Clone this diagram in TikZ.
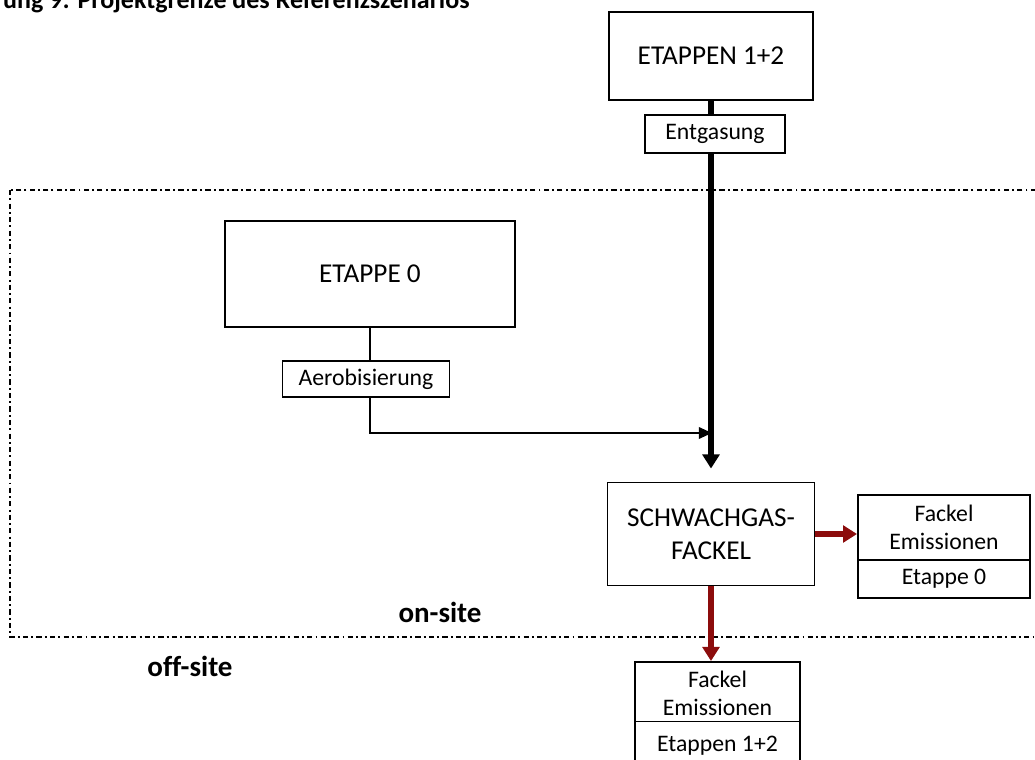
\documentclass[tikz,border=0pt]{standalone}
\usepackage{fontspec}
\setmainfont{Carlito}
\usetikzlibrary{arrows.meta,calc}

\definecolor{fackelrot}{RGB}{140,12,12}

\tikzset{
	box/.style={draw,line width=1.1pt,fill=white,inner sep=0pt,align=center,font=\fontsize{13.5}{16}\selectfont},
	grossbox/.style={box,font=\fontsize{15.5}{19}\selectfont},
	grenze/.style={line width=1.6pt,dash pattern=on 3pt off 1.8pt on 1.1pt off 1.8pt},
	flussdick/.style={line width=3.2pt,-{Triangle[length=8pt,width=9.5pt]}},
	flussduenn/.style={line width=1.3pt,-{Triangle[length=7.5pt,width=6.5pt]}},
	flussrot/.style={line width=3.2pt,fackelrot,-{Triangle[length=8pt,width=9.5pt]}},
	gebiet/.style={font=\fontsize{16.5}{19}\selectfont\bfseries\addfontfeature{Ligatures=NoCommon}}
}

\begin{document}
\begin{tikzpicture}[x=0.02cm,y=-0.02cm]

			\useasboundingbox (0,0) rectangle (1035,760);
			\clip (0,0) rectangle (1035,760);

			\node[anchor=base west,font=\fontsize{14.8}{17}\selectfont\bfseries] (titel) at (-3,9) {ung 9: Projektgrenze des Referenzszenarios};

			% Projektgrenze
			\draw[grenze] (10,190) rectangle (1050,637);

			\coordinate (merge) at (712,433);

			\node[grossbox,minimum width=4.08cm,minimum height=1.76cm] (etappen) at (711,56) {ETAPPEN 1+2};
			\node[grossbox,minimum width=5.8cm,minimum height=2.12cm] (etappe0) at (370,274) {ETAPPE 0};
			\node[box,minimum width=3.34cm,minimum height=0.72cm] (aerob) at (366,379) {Aerobisierung};
			\node[grossbox,minimum width=4.14cm,minimum height=2.06cm] (fackel) at (711,534) {SCHWACHGAS-\\FACKEL};

			\node[box,minimum width=3.44cm,minimum height=1.3cm] (emis0) at (944,527.5) {Fackel\\Emissionen};
			\node[box,minimum width=3.44cm,minimum height=0.76cm] (etappe0b) at (944,579) {Etappe 0};
			\node[box,minimum width=3.3cm,minimum height=1.26cm] (emis12) at (717.5,693.5) {Fackel\\Emissionen};
			\node[box,minimum width=3.3cm,minimum height=0.9cm,text depth=0pt] (etappen12b) at (717.5,744) {Etappen 1+2};

			\draw[flussdick,shorten >=0.26cm] (etappen.south) -- (etappen.south |- fackel.north);
			\node[box,minimum width=2.8cm,minimum height=0.76cm] (entgasung) at (715,134) {Entgasung};

			\draw[line width=1.3pt] (etappe0.south) -- (etappe0.south |- aerob.north);
			\draw[flussduenn] (etappe0.south |- aerob.south) |- (merge);

			\draw[flussrot] (fackel.east) -- (fackel.east -| emis0.west);
			\draw[flussrot] (fackel.south) -- (fackel.south |- emis12.north);

			\node[gebiet] (onsite) at (440,612) {on-site};
			\node[gebiet] (offsite) at (190,666) {off-site};

		\end{tikzpicture}
\end{document}
